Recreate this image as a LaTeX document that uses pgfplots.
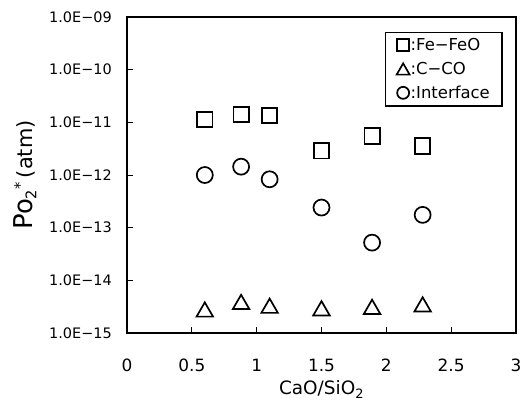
\documentclass[border=0pt]{standalone}
\usepackage{fontspec}
\setmainfont{DejaVu Sans}
\usepackage{pgfplots}
\pgfplotsset{compat=1.18}
\begin{document}
\begin{tikzpicture}
\useasboundingbox (-127bp,-70bp) rectangle (396bp,333bp);
\begin{axis}[
  scale only axis, width=389bp, height=316bp,
  at={(0,0)}, anchor=south west,
  xmin=0, xmax=3, ymode=log, ymin=1e-15, ymax=1e-9,
  xtick={0,0.5,1,1.5,2,2.5,3},
  xticklabels={0,0.5,1,1.5,2,2.5,3},
  ytick={1e-15,1e-14,1e-13,1e-12,1e-11,1e-10,1e-9},
  yticklabels={1.0E−15,1.0E−14,1.0E−13,1.0E−12,1.0E−11,1.0E−10,1.0E−09},
  yminorticks=false, xminorticks=false,
  tick pos=left, tick align=inside,
  major tick length=6bp,
  axis line style={line width=2bp},
  every tick/.style={line width=0.8bp, black},
  xticklabel style={font=\fontsize{17}{17}\selectfont, anchor=center, inner sep=0pt, yshift=-32bp},
  yticklabel style={font=\fontsize{14.5}{14.5}\selectfont, anchor=east, inner sep=0pt, xshift=-15bp},
  xlabel={CaO/SiO\textsubscript{2}},
  xlabel style={at={(axis description cs:0.5,-0.178)}, anchor=center, font=\fontsize{18.5}{18.5}\selectfont},
  ylabel={{\fontsize{26}{26}\selectfont Po}\textsubscript{2}\textsuperscript{*}\,(atm)},
  ylabel style={at={(axis description cs:-0.262,0.5)}, anchor=center, font=\fontsize{21}{21}\selectfont},
  legend style={at={(axis description cs:0.663,0.9535)}, anchor=north west, draw=black, line width=1.5bp,
    font=\fontsize{16.5}{16.5}\selectfont, inner xsep=11bp, inner ysep=5bp, row sep=8bp,
    nodes={inner sep=1bp}},
  legend cell align=left,
  legend image code/.code={\draw[#1, mark size=6bp] plot coordinates {(0bp,0bp)};},
]
\addplot[only marks, mark=square, mark size=7.7bp, line width=1.7bp, black] coordinates {
  (0.6,1.13e-11) (0.88,1.41e-11) (1.1,1.35e-11) (1.5,2.9e-12) (1.89,5.5e-12) (2.28,3.56e-12)};
\addlegendentry{:Fe−FeO}
\addplot[only marks, mark=triangle, mark size=9.5bp, line width=1.7bp, black, mark options={yshift=-2.4bp},
  legend image code/.code={\draw[black, line width=1.7bp, mark=triangle, mark size=7.5bp, mark options={yshift=-1.9bp}] plot coordinates {(0bp,0bp)};}] coordinates {
  (0.6,2.8e-15) (0.88,3.9e-15) (1.1,3.3e-15) (1.5,2.95e-15) (1.89,3.15e-15) (2.28,3.5e-15)};
\addlegendentry{:C−CO}
\addplot[only marks, mark=o, mark size=8bp, line width=1.7bp, black] coordinates {
  (0.6,1.0e-12) (0.88,1.44e-12) (1.1,8.3e-13) (1.5,2.41e-13) (1.89,5.2e-14) (2.28,1.75e-13)};
\addlegendentry{:Interface}
\end{axis}
\end{tikzpicture}
\end{document}
